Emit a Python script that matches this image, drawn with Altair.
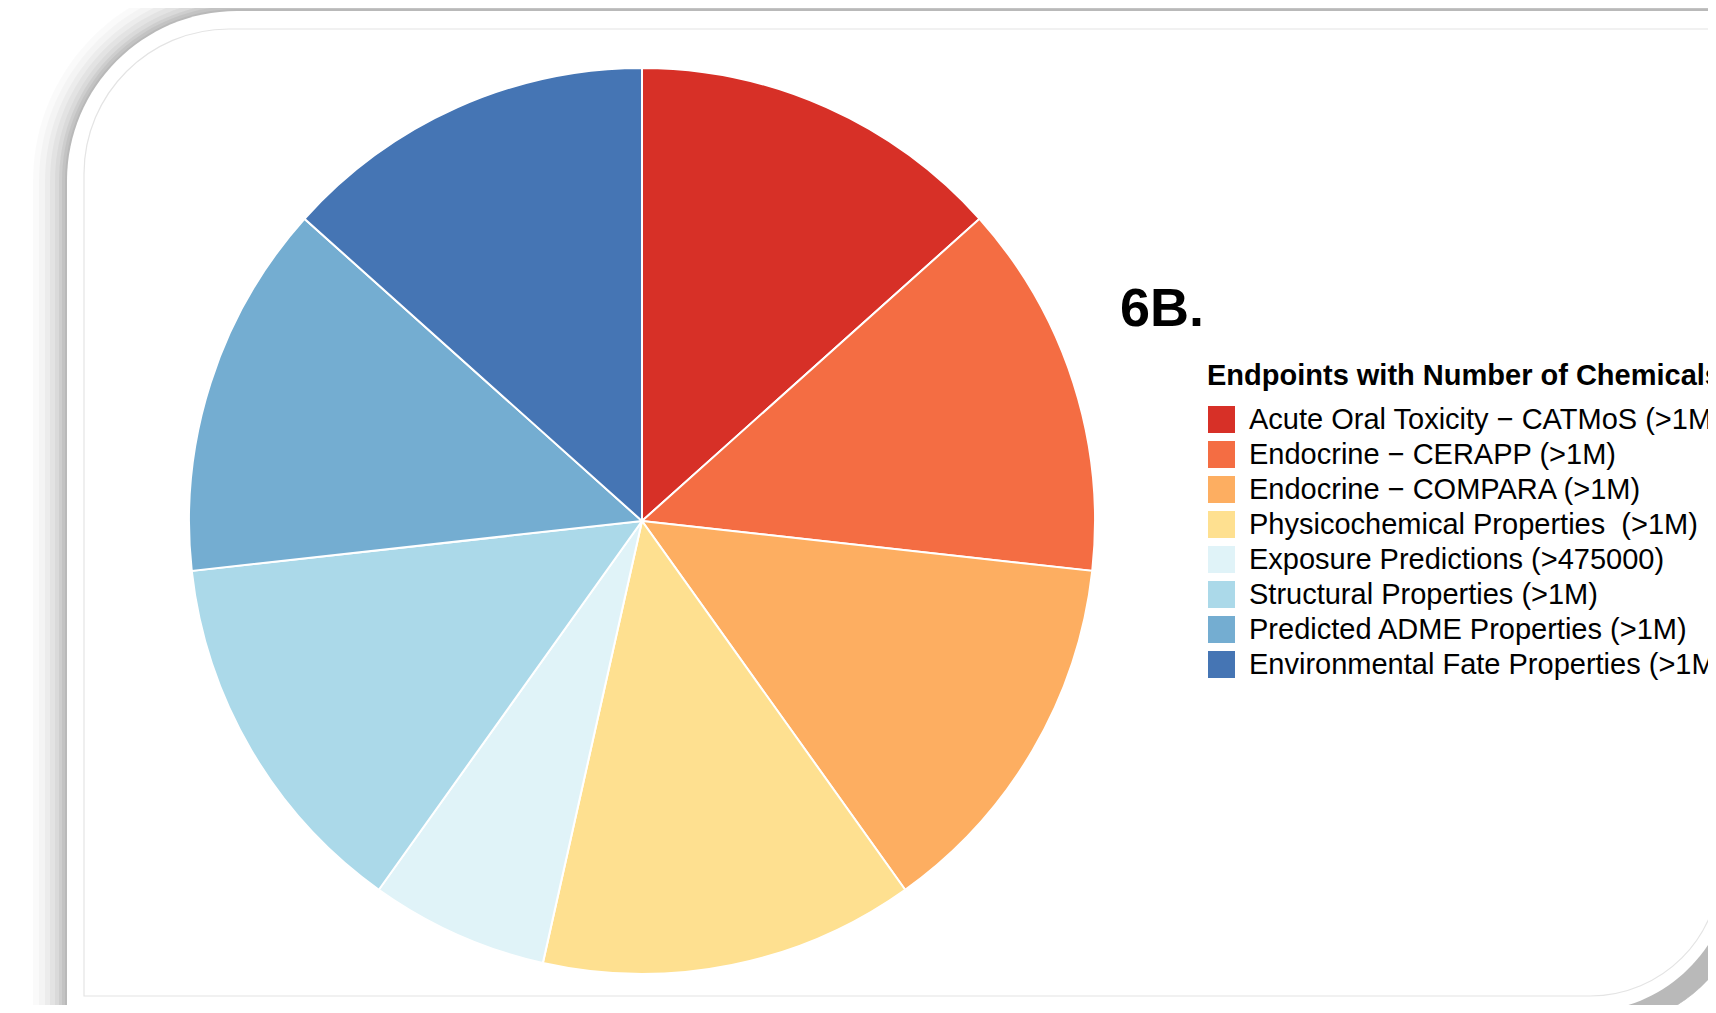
import altair as alt
import pandas as pd

categories = [
    "Acute Oral Toxicity \u2212 CATMoS (>1M)",
    "Endocrine \u2212 CERAPP (>1M)",
    "Endocrine \u2212 COMPARA (>1M)",
    "Physicochemical Properties \u00a0(>1M)",
    "Exposure Predictions (>475000)",
    "Structural Properties (>1M)",
    "Predicted ADME Properties (>1M)",
    "Environmental Fate Properties (>1M)",
]
chemicals = [1000000, 1000000, 1000000, 1000000, 475000, 1000000, 1000000, 1000000]
colors = ["#d73027", "#f46d43", "#fdae61", "#fee090", "#e0f3f8", "#abd9e9", "#74add1", "#4575b4"]

df = pd.DataFrame({"endpoint": categories, "n": chemicals, "order": list(range(len(categories)))})

W, H = 1700, 997
one = alt.Data(values=[{"a": 1}])

# decorative frame (soft shadow + rounded panel + inner border)
shadows = []
for off, op in [(34, 0.02), (28, 0.025), (22, 0.03), (17, 0.035), (12, 0.04), (8, 0.05), (5, 0.05), (2, 0.05)]:
    shadows.append(
        alt.Chart(one).mark_rect(fill="black", opacity=op, cornerRadiusTopLeft=170 + off,
                                 cornerRadiusBottomRight=150)
        .encode(x=alt.value(59 - off), x2=alt.value(1740), y=alt.value(3 - off), y2=alt.value(1020))
    )
panel = alt.Chart(one).mark_rect(fill="white", cornerRadiusTopLeft=170, cornerRadiusBottomRight=150).encode(
    x=alt.value(59), x2=alt.value(1725), y=alt.value(3), y2=alt.value(1004)
)
inner = alt.Chart(one).mark_rect(fill="white", stroke="#e4e4e4", strokeWidth=1.2,
                                 cornerRadiusTopLeft=145, cornerRadiusBottomRight=130).encode(
    x=alt.value(76), x2=alt.value(1712), y=alt.value(21), y2=alt.value(988)
)

pie = alt.Chart(df).mark_arc(radius=453, stroke="white", strokeWidth=2).encode(
    theta=alt.Theta("n:Q", stack=True),
    order=alt.Order("order:Q"),
    color=alt.Color(
        "endpoint:N",
        sort=categories,
        scale=alt.Scale(domain=categories, range=colors),
        legend=alt.Legend(
            title="Endpoints with Number of Chemicals",
            orient="none",
            legendX=1199,
            legendY=354,
            titleFont="Liberation Sans",
            titleFontSize=29,
            titleFontWeight="bold",
            titleColor="black",
            titlePadding=14,
            titleLimit=1000,
            labelFont="Liberation Sans",
            labelFontSize=29,
            labelColor="black",
            labelLimit=1000,
            labelOffset=13,
            symbolType="square",
            symbolSize=729,
            symbolStrokeWidth=0,
            symbolOpacity=1,
            rowPadding=5,
        ),
    ),
    x=alt.value(634),
    y=alt.value(513),
)

label = alt.Chart(one).mark_text(
    text="6B.", font="Liberation Sans", fontSize=54, fontWeight="bold", color="black",
    align="left", baseline="alphabetic"
).encode(x=alt.value(1112), y=alt.value(318))

chart = alt.layer(*shadows, panel, inner, pie, label).properties(
    width=W, height=H, padding=0, autosize=alt.AutoSizeParams(type="none")
).configure_view(stroke=None)

chart.save("out.html", embed_options={"renderer": "svg", "actions": False})
